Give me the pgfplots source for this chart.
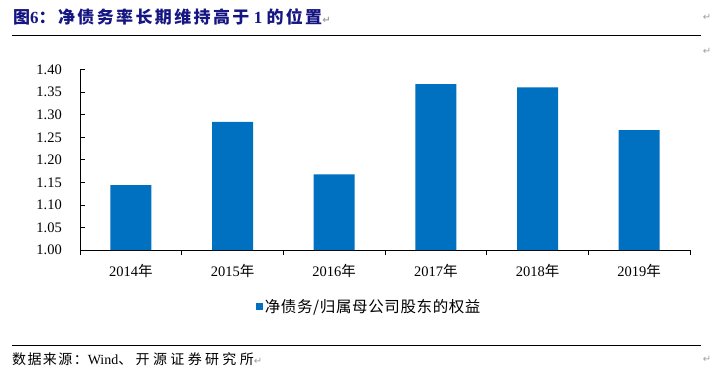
\documentclass[border=0pt]{standalone}
\usepackage{pgfplots}
\pgfplotsset{compat=1.18}
\usepackage{fontspec}
\setmainfont{Liberation Serif}
\newfontfamily\cjk{Noto Sans CJK SC}
\newfontfamily\cjkt[LetterSpace=14]{Noto Sans CJK SC}
\newfontfamily\cjka[LetterSpace=10]{Noto Sans CJK SC}
\newfontfamily\cjks[LetterSpace=24]{Noto Sans CJK SC}
\newfontfamily\cjkl[LetterSpace=4]{Noto Sans CJK SC}
\newfontfamily\sym{DejaVu Sans}
\definecolor{barblue}{RGB}{0,112,192}
\definecolor{titleblue}{RGB}{22,22,130}
\definecolor{markgray}{RGB}{160,160,160}
\newcommand{\ret}{{\sym\color{markgray}\fontsize{10bp}{12bp}\selectfont ↵}}
\begin{document}
\begin{tikzpicture}[x=1bp,y=1bp]
\useasboundingbox (0,0) rectangle (723,378);
\fill[white] (0,0) rectangle (723,378);
\node[anchor=west, inner sep=0pt, text=titleblue, font=\fontsize{17bp}{20bp}\selectfont\bfseries] at (13,361) {{\cjkt 图}6{\cjkt ：净债务率长期维持高于}~1~{\cjkt 的位置}\ret};
\node[inner sep=0pt] at (707,361) {\ret};
\node[inner sep=0pt] at (707,327) {\ret};
\node[inner sep=0pt] at (707,19) {\ret};
\draw[line width=1bp] (12,343) -- (701,343);
\draw[line width=1bp] (12,33) -- (701,33);
\node[anchor=west, inner sep=0pt, font=\fontsize{14bp}{16bp}\selectfont] at (12,19) {{\cjka 数据来源：}Wind{\cjks 、开源证券研究所}\ret};
\begin{axis}[
  at={(80bp,308.3bp)}, anchor=north west,
  scale only axis, width=610bp, height=180.3bp,
  xmin=-0.5, xmax=5.5, ymin=1, ymax=1.4,
  axis x line*=bottom, axis y line*=left,
  axis line style={black, line width=1bp},
  ytick={1,1.05,1.1,1.15,1.2,1.25,1.3,1.35,1.4},
  yticklabels={1.00,1.05,1.10,1.15,1.20,1.25,1.30,1.35,1.40},
  xtick={-0.5,0.5,1.5,2.5,3.5,4.5,5.5},
  xticklabels={},
  extra x ticks={0,1,2,3,4,5},
  extra x tick labels={{2014{\cjk 年}},{2015{\cjk 年}},{2016{\cjk 年}},{2017{\cjk 年}},{2018{\cjk 年}},{2019{\cjk 年}}},
  extra x tick style={major tick length=0pt},
  major tick length=5bp,
  tick style={black, line width=0.8bp},
  yticklabel style={font=\fontsize{14.5bp}{17bp}\selectfont, inner sep=0pt, xshift=-18bp},
  xticklabel style={font=\fontsize{14.5bp}{17bp}\selectfont, inner sep=0pt, yshift=-14bp},
  ybar, bar width=41bp,
  legend style={draw=none, fill=none, inner sep=0pt, at={(0.288,-0.3134)}, anchor=west, font=\fontsize{15.5bp}{18bp}\selectfont},
  legend image code/.code={\fill[barblue] (0bp,-3.5bp) rectangle (7bp,3.5bp);},
]
\addplot[fill=barblue, draw=none] coordinates {(0,1.144) (1,1.284) (2,1.168) (3,1.368) (4,1.361) (5,1.266)};
\addlegendentry{{\cjkl 净债务/归属母公司股东的权益}}
\end{axis}
\end{tikzpicture}
\end{document}
